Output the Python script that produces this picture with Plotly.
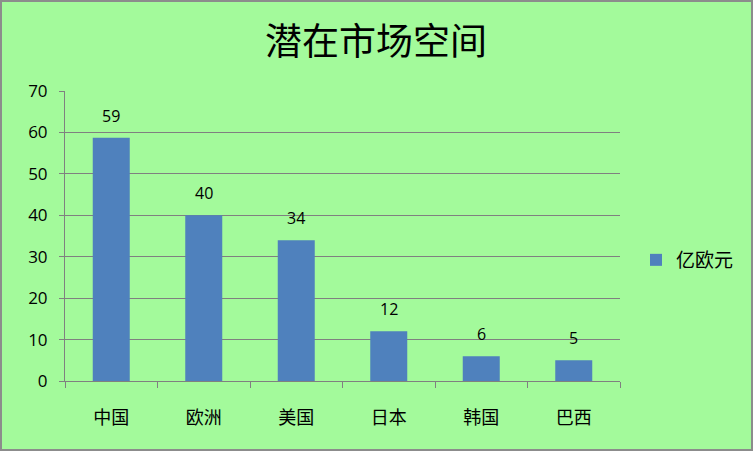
import plotly.graph_objects as go

categories = ["中国", "欧洲", "美国", "日本", "韩国", "巴西"]
values = [58.7, 40, 34, 12, 6, 5]
labels = ["59", "40", "34", "12", "6", "5"]
series_name = "亿欧元"
y_ticks = [0, 10, 20, 30, 40, 50, 60, 70]

BG = "#A3FA9B"
BAR = "#4F81BD"
GRID = "#808080"
W, H = 753, 451
ML, MR, MT, MB = 65, 133, 91, 70
PW, PH = W - ML - MR, H - MT - MB

fig = go.Figure()
fig.add_trace(go.Bar(
    x=categories, y=values, name=series_name,
    marker=dict(color=BAR, line=dict(width=0)),
    showlegend=True,
))

for c, v, t in zip(categories, values, labels):
    fig.add_annotation(x=c, y=v, text=t, showarrow=False, yshift=22,
                       font=dict(family="Open Sans, Noto Sans CJK SC", size=16, color="#000000"))

# outer frame
fig.add_shape(type="rect", xref="paper", yref="paper",
              x0=(1 - ML) / PW, x1=(W - 1 - ML) / PW,
              y0=(H - MB - (H - 1)) / PH, y1=(H - MB - 1) / PH,
              line=dict(color="#8C8C8C", width=2), fillcolor="rgba(0,0,0,0)", layer="below")

fig.update_layout(
    width=W, height=H,
    margin=dict(l=ML, r=MR, t=MT, b=MB, pad=0),
    paper_bgcolor=BG, plot_bgcolor=BG,
    bargap=0.6,
    title=dict(text="潜在市场空间", x=376 / W,
               xanchor="center", y=1 - 42 / H, yanchor="middle",
               font=dict(family="Noto Sans CJK SC", size=37, color="#000000")),
    legend=dict(x=(636 - ML) / PW, y=(H - MB - 260) / PH, xanchor="left", yanchor="middle",
                font=dict(family="Noto Sans CJK SC", size=19, color="#000000"),
                bgcolor="rgba(0,0,0,0)", itemwidth=30),
    xaxis=dict(
        type="category", tickson="boundaries", ticks="outside", ticklen=6, tickcolor=GRID,
        showline=True, linecolor=GRID, linewidth=1, showgrid=False, automargin=False,
        tickfont=dict(family="Noto Sans CJK SC", size=18, color="#000000"),
        ticklabelstandoff=20,
    ),
    yaxis=dict(
        range=[0, 70], tickvals=y_ticks, ticks="outside", ticklen=5, tickcolor=GRID,
        showline=True, linecolor=GRID, linewidth=1, automargin=False,
        showgrid=True, gridcolor=GRID, gridwidth=1, zeroline=False,
        tickfont=dict(family="Open Sans", size=17, color="#000000"),
        ticklabelstandoff=8,
    ),
)

fig.write_html("out.html", config={"displayModeBar": False},
               post_script="document.body.style.margin='0';document.body.style.overflow='hidden';")
